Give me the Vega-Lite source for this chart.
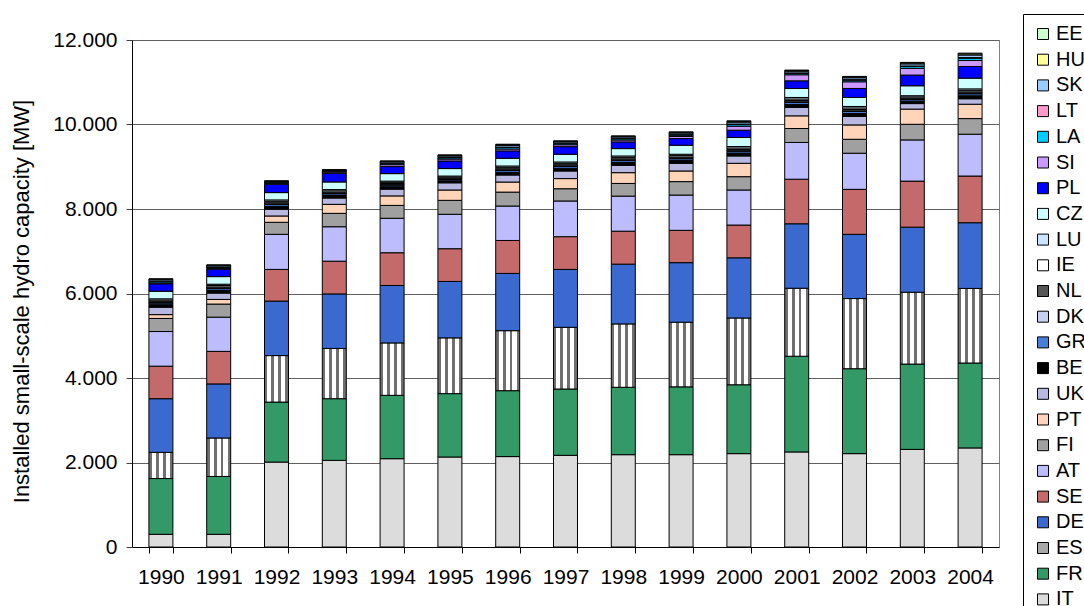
{
  "$schema": "https://vega.github.io/schema/vega-lite/v6.json",
  "autosize": {"type": "none"},
  "width": 867,
  "height": 507,
  "padding": {"left": 132, "top": 40, "right": 85, "bottom": 59},
  "background": "white",
  "config": {
    "font": "Liberation Sans",
    "view": {"stroke": "#808080", "strokeWidth": 1}
  },
  "data": {"values": [
{"year":"1990","country":"IT","mw":300},{"year":"1990","country":"FR","mw":1320},{"year":"1990","country":"ES","mw":620},{"year":"1990","country":"DE","mw":1270},{"year":"1990","country":"SE","mw":770},{"year":"1990","country":"AT","mw":820},{"year":"1990","country":"FI","mw":310},{"year":"1990","country":"PT","mw":90},{"year":"1990","country":"UK","mw":175},{"year":"1990","country":"BE","mw":60},{"year":"1990","country":"GR","mw":40},{"year":"1990","country":"DK","mw":10},{"year":"1990","country":"NL","mw":30},{"year":"1990","country":"IE","mw":30},{"year":"1990","country":"LU","mw":29},{"year":"1990","country":"CZ","mw":180},{"year":"1990","country":"PL","mw":176},{"year":"1990","country":"SI","mw":20},{"year":"1990","country":"LA","mw":29},{"year":"1990","country":"LT","mw":10},{"year":"1990","country":"SK","mw":34},{"year":"1990","country":"HU","mw":15},{"year":"1990","country":"EE","mw":10},
{"year":"1991","country":"IT","mw":300},{"year":"1991","country":"FR","mw":1370},{"year":"1991","country":"ES","mw":910},{"year":"1991","country":"DE","mw":1280},{"year":"1991","country":"SE","mw":770},{"year":"1991","country":"AT","mw":810},{"year":"1991","country":"FI","mw":310},{"year":"1991","country":"PT","mw":110},{"year":"1991","country":"UK","mw":150},{"year":"1991","country":"BE","mw":63},{"year":"1991","country":"GR","mw":42},{"year":"1991","country":"DK","mw":10},{"year":"1991","country":"NL","mw":32},{"year":"1991","country":"IE","mw":32},{"year":"1991","country":"LU","mw":31},{"year":"1991","country":"CZ","mw":180},{"year":"1991","country":"PL","mw":175},{"year":"1991","country":"SI","mw":20},{"year":"1991","country":"LA","mw":25},{"year":"1991","country":"LT","mw":8},{"year":"1991","country":"SK","mw":29},{"year":"1991","country":"HU","mw":12},{"year":"1991","country":"EE","mw":8},
{"year":"1992","country":"IT","mw":2010},{"year":"1992","country":"FR","mw":1420},{"year":"1992","country":"ES","mw":1100},{"year":"1992","country":"DE","mw":1290},{"year":"1992","country":"SE","mw":750},{"year":"1992","country":"AT","mw":830},{"year":"1992","country":"FI","mw":285},{"year":"1992","country":"PT","mw":150},{"year":"1992","country":"UK","mw":160},{"year":"1992","country":"BE","mw":66},{"year":"1992","country":"GR","mw":44},{"year":"1992","country":"DK","mw":11},{"year":"1992","country":"NL","mw":33},{"year":"1992","country":"IE","mw":33},{"year":"1992","country":"LU","mw":33},{"year":"1992","country":"CZ","mw":173},{"year":"1992","country":"PL","mw":200},{"year":"1992","country":"SI","mw":20},{"year":"1992","country":"LA","mw":17},{"year":"1992","country":"LT","mw":6},{"year":"1992","country":"SK","mw":20},{"year":"1992","country":"HU","mw":9},{"year":"1992","country":"EE","mw":6},
{"year":"1993","country":"IT","mw":2050},{"year":"1993","country":"FR","mw":1460},{"year":"1993","country":"ES","mw":1190},{"year":"1993","country":"DE","mw":1290},{"year":"1993","country":"SE","mw":775},{"year":"1993","country":"AT","mw":815},{"year":"1993","country":"FI","mw":317},{"year":"1993","country":"PT","mw":213},{"year":"1993","country":"UK","mw":150},{"year":"1993","country":"BE","mw":60},{"year":"1993","country":"GR","mw":40},{"year":"1993","country":"DK","mw":10},{"year":"1993","country":"NL","mw":30},{"year":"1993","country":"IE","mw":30},{"year":"1993","country":"LU","mw":30},{"year":"1993","country":"CZ","mw":180},{"year":"1993","country":"PL","mw":205},{"year":"1993","country":"SI","mw":30},{"year":"1993","country":"LA","mw":17},{"year":"1993","country":"LT","mw":5},{"year":"1993","country":"SK","mw":19},{"year":"1993","country":"HU","mw":8},{"year":"1993","country":"EE","mw":6},
{"year":"1994","country":"IT","mw":2090},{"year":"1994","country":"FR","mw":1500},{"year":"1994","country":"ES","mw":1240},{"year":"1994","country":"DE","mw":1360},{"year":"1994","country":"SE","mw":775},{"year":"1994","country":"AT","mw":815},{"year":"1994","country":"FI","mw":305},{"year":"1994","country":"PT","mw":225},{"year":"1994","country":"UK","mw":160},{"year":"1994","country":"BE","mw":57},{"year":"1994","country":"GR","mw":38},{"year":"1994","country":"DK","mw":10},{"year":"1994","country":"NL","mw":28},{"year":"1994","country":"IE","mw":29},{"year":"1994","country":"LU","mw":28},{"year":"1994","country":"CZ","mw":178},{"year":"1994","country":"PL","mw":166},{"year":"1994","country":"SI","mw":45},{"year":"1994","country":"LA","mw":26},{"year":"1994","country":"LT","mw":9},{"year":"1994","country":"SK","mw":31},{"year":"1994","country":"HU","mw":13},{"year":"1994","country":"EE","mw":9},
{"year":"1995","country":"IT","mw":2130},{"year":"1995","country":"FR","mw":1500},{"year":"1995","country":"ES","mw":1320},{"year":"1995","country":"DE","mw":1335},{"year":"1995","country":"SE","mw":775},{"year":"1995","country":"AT","mw":815},{"year":"1995","country":"FI","mw":330},{"year":"1995","country":"PT","mw":245},{"year":"1995","country":"UK","mw":170},{"year":"1995","country":"BE","mw":48},{"year":"1995","country":"GR","mw":32},{"year":"1995","country":"DK","mw":8},{"year":"1995","country":"NL","mw":24},{"year":"1995","country":"IE","mw":24},{"year":"1995","country":"LU","mw":24},{"year":"1995","country":"CZ","mw":177},{"year":"1995","country":"PL","mw":180},{"year":"1995","country":"SI","mw":45},{"year":"1995","country":"LA","mw":29},{"year":"1995","country":"LT","mw":10},{"year":"1995","country":"SK","mw":34},{"year":"1995","country":"HU","mw":15},{"year":"1995","country":"EE","mw":10},
{"year":"1996","country":"IT","mw":2140},{"year":"1996","country":"FR","mw":1560},{"year":"1996","country":"ES","mw":1420},{"year":"1996","country":"DE","mw":1355},{"year":"1996","country":"SE","mw":780},{"year":"1996","country":"AT","mw":815},{"year":"1996","country":"FI","mw":330},{"year":"1996","country":"PT","mw":238},{"year":"1996","country":"UK","mw":167},{"year":"1996","country":"BE","mw":64},{"year":"1996","country":"GR","mw":43},{"year":"1996","country":"DK","mw":10},{"year":"1996","country":"NL","mw":32},{"year":"1996","country":"IE","mw":32},{"year":"1996","country":"LU","mw":32},{"year":"1996","country":"CZ","mw":183},{"year":"1996","country":"PL","mw":174},{"year":"1996","country":"SI","mw":45},{"year":"1996","country":"LA","mw":34},{"year":"1996","country":"LT","mw":11},{"year":"1996","country":"SK","mw":40},{"year":"1996","country":"HU","mw":17},{"year":"1996","country":"EE","mw":11},
{"year":"1997","country":"IT","mw":2170},{"year":"1997","country":"FR","mw":1570},{"year":"1997","country":"ES","mw":1460},{"year":"1997","country":"DE","mw":1370},{"year":"1997","country":"SE","mw":775},{"year":"1997","country":"AT","mw":845},{"year":"1997","country":"FI","mw":290},{"year":"1997","country":"PT","mw":240},{"year":"1997","country":"UK","mw":180},{"year":"1997","country":"BE","mw":64},{"year":"1997","country":"GR","mw":43},{"year":"1997","country":"DK","mw":10},{"year":"1997","country":"NL","mw":32},{"year":"1997","country":"IE","mw":32},{"year":"1997","country":"LU","mw":32},{"year":"1997","country":"CZ","mw":183},{"year":"1997","country":"PL","mw":180},{"year":"1997","country":"SI","mw":45},{"year":"1997","country":"LA","mw":27},{"year":"1997","country":"LT","mw":9},{"year":"1997","country":"SK","mw":32},{"year":"1997","country":"HU","mw":14},{"year":"1997","country":"EE","mw":9},
{"year":"1998","country":"IT","mw":2185},{"year":"1998","country":"FR","mw":1595},{"year":"1998","country":"ES","mw":1500},{"year":"1998","country":"DE","mw":1415},{"year":"1998","country":"SE","mw":780},{"year":"1998","country":"AT","mw":830},{"year":"1998","country":"FI","mw":300},{"year":"1998","country":"PT","mw":255},{"year":"1998","country":"UK","mw":175},{"year":"1998","country":"BE","mw":66},{"year":"1998","country":"GR","mw":44},{"year":"1998","country":"DK","mw":11},{"year":"1998","country":"NL","mw":33},{"year":"1998","country":"IE","mw":33},{"year":"1998","country":"LU","mw":33},{"year":"1998","country":"CZ","mw":175},{"year":"1998","country":"PL","mw":158},{"year":"1998","country":"SI","mw":45},{"year":"1998","country":"LA","mw":29},{"year":"1998","country":"LT","mw":10},{"year":"1998","country":"SK","mw":34},{"year":"1998","country":"HU","mw":14},{"year":"1998","country":"EE","mw":10},
{"year":"1999","country":"IT","mw":2185},{"year":"1999","country":"FR","mw":1605},{"year":"1999","country":"ES","mw":1530},{"year":"1999","country":"DE","mw":1410},{"year":"1999","country":"SE","mw":765},{"year":"1999","country":"AT","mw":835},{"year":"1999","country":"FI","mw":318},{"year":"1999","country":"PT","mw":252},{"year":"1999","country":"UK","mw":182},{"year":"1999","country":"BE","mw":64},{"year":"1999","country":"GR","mw":43},{"year":"1999","country":"DK","mw":11},{"year":"1999","country":"NL","mw":32},{"year":"1999","country":"IE","mw":32},{"year":"1999","country":"LU","mw":32},{"year":"1999","country":"CZ","mw":213},{"year":"1999","country":"PL","mw":158},{"year":"1999","country":"SI","mw":50},{"year":"1999","country":"LA","mw":32},{"year":"1999","country":"LT","mw":11},{"year":"1999","country":"SK","mw":38},{"year":"1999","country":"HU","mw":16},{"year":"1999","country":"EE","mw":11},
{"year":"2000","country":"IT","mw":2210},{"year":"2000","country":"FR","mw":1630},{"year":"2000","country":"ES","mw":1580},{"year":"2000","country":"DE","mw":1425},{"year":"2000","country":"SE","mw":775},{"year":"2000","country":"AT","mw":830},{"year":"2000","country":"FI","mw":315},{"year":"2000","country":"PT","mw":317},{"year":"2000","country":"UK","mw":174},{"year":"2000","country":"BE","mw":67},{"year":"2000","country":"GR","mw":44},{"year":"2000","country":"DK","mw":11},{"year":"2000","country":"NL","mw":33},{"year":"2000","country":"IE","mw":33},{"year":"2000","country":"LU","mw":34},{"year":"2000","country":"CZ","mw":214},{"year":"2000","country":"PL","mw":173},{"year":"2000","country":"SI","mw":95},{"year":"2000","country":"LA","mw":38},{"year":"2000","country":"LT","mw":13},{"year":"2000","country":"SK","mw":44},{"year":"2000","country":"HU","mw":19},{"year":"2000","country":"EE","mw":12},
{"year":"2001","country":"IT","mw":2250},{"year":"2001","country":"FR","mw":2265},{"year":"2001","country":"ES","mw":1610},{"year":"2001","country":"DE","mw":1525},{"year":"2001","country":"SE","mw":1055},{"year":"2001","country":"AT","mw":870},{"year":"2001","country":"FI","mw":330},{"year":"2001","country":"PT","mw":300},{"year":"2001","country":"UK","mw":200},{"year":"2001","country":"BE","mw":70},{"year":"2001","country":"GR","mw":47},{"year":"2001","country":"DK","mw":12},{"year":"2001","country":"NL","mw":35},{"year":"2001","country":"IE","mw":35},{"year":"2001","country":"LU","mw":36},{"year":"2001","country":"CZ","mw":213},{"year":"2001","country":"PL","mw":181},{"year":"2001","country":"SI","mw":143},{"year":"2001","country":"LA","mw":33},{"year":"2001","country":"LT","mw":11},{"year":"2001","country":"SK","mw":39},{"year":"2001","country":"HU","mw":17},{"year":"2001","country":"EE","mw":11},
{"year":"2002","country":"IT","mw":2210},{"year":"2002","country":"FR","mw":2010},{"year":"2002","country":"ES","mw":1660},{"year":"2002","country":"DE","mw":1520},{"year":"2002","country":"SE","mw":1065},{"year":"2002","country":"AT","mw":855},{"year":"2002","country":"FI","mw":330},{"year":"2002","country":"PT","mw":340},{"year":"2002","country":"UK","mw":200},{"year":"2002","country":"BE","mw":71},{"year":"2002","country":"GR","mw":47},{"year":"2002","country":"DK","mw":12},{"year":"2002","country":"NL","mw":36},{"year":"2002","country":"IE","mw":36},{"year":"2002","country":"LU","mw":35},{"year":"2002","country":"CZ","mw":213},{"year":"2002","country":"PL","mw":213},{"year":"2002","country":"SI","mw":158},{"year":"2002","country":"LA","mw":38},{"year":"2002","country":"LT","mw":13},{"year":"2002","country":"SK","mw":44},{"year":"2002","country":"HU","mw":19},{"year":"2002","country":"EE","mw":13},
{"year":"2003","country":"IT","mw":2310},{"year":"2003","country":"FR","mw":2020},{"year":"2003","country":"ES","mw":1700},{"year":"2003","country":"DE","mw":1540},{"year":"2003","country":"SE","mw":1090},{"year":"2003","country":"AT","mw":975},{"year":"2003","country":"FI","mw":370},{"year":"2003","country":"PT","mw":360},{"year":"2003","country":"UK","mw":130},{"year":"2003","country":"BE","mw":56},{"year":"2003","country":"GR","mw":37},{"year":"2003","country":"DK","mw":9},{"year":"2003","country":"NL","mw":28},{"year":"2003","country":"IE","mw":28},{"year":"2003","country":"LU","mw":28},{"year":"2003","country":"CZ","mw":236},{"year":"2003","country":"PL","mw":253},{"year":"2003","country":"SI","mw":158},{"year":"2003","country":"LA","mw":43},{"year":"2003","country":"LT","mw":14},{"year":"2003","country":"SK","mw":50},{"year":"2003","country":"HU","mw":21},{"year":"2003","country":"EE","mw":14},
{"year":"2004","country":"IT","mw":2345},{"year":"2004","country":"FR","mw":2010},{"year":"2004","country":"ES","mw":1765},{"year":"2004","country":"DE","mw":1555},{"year":"2004","country":"SE","mw":1105},{"year":"2004","country":"AT","mw":990},{"year":"2004","country":"FI","mw":370},{"year":"2004","country":"PT","mw":340},{"year":"2004","country":"UK","mw":130},{"year":"2004","country":"BE","mw":70},{"year":"2004","country":"GR","mw":47},{"year":"2004","country":"DK","mw":12},{"year":"2004","country":"NL","mw":35},{"year":"2004","country":"IE","mw":35},{"year":"2004","country":"LU","mw":34},{"year":"2004","country":"CZ","mw":254},{"year":"2004","country":"PL","mw":276},{"year":"2004","country":"SI","mw":142},{"year":"2004","country":"LA","mw":52},{"year":"2004","country":"LT","mw":17},{"year":"2004","country":"SK","mw":61},{"year":"2004","country":"HU","mw":26},{"year":"2004","country":"EE","mw":18}
  ]},
  "transform": [
    {"calculate": "indexof(['IT','FR','ES','DE','SE','AT','FI','PT','UK','BE','GR','DK','NL','IE','LU','CZ','PL','SI','LA','LT','SK','HU','EE'], datum.country)", "as": "stackOrder"}
  ],
  "mark": {"type": "bar", "stroke": "black", "strokeWidth": 1},
  "encoding": {
    "x": {
      "field": "year", "type": "nominal",
      "scale": {"paddingInner": 0.585, "paddingOuter": 0.2925},
      "axis": {"title": null, "labelAngle": 0, "labelFontSize": 21, "labelColor": "black", "labelPadding": 13, "tickBand": "extent", "tickSize": 6, "tickColor": "black", "domainColor": "black", "grid": false}
    },
    "y": {
      "field": "mw", "type": "quantitative", "stack": "zero",
      "scale": {"domain": [0, 12000], "nice": false},
      "axis": {
        "title": "Installed small-scale hydro capacity [MW]",
        "titleFontSize": 22, "titleFontWeight": "normal", "titleColor": "black",
        "titleX": -104, "titleY": 261, "titleAngle": -90, "titleBaseline": "alphabetic", "titleAlign": "center",
        "values": [0, 2000, 4000, 6000, 8000, 10000, 12000],
        "labelExpr": "replace(format(datum.value, ','), ',', '.')",
        "labelFontSize": 21, "labelColor": "black", "labelPadding": 9,
        "tickSize": 6, "tickColor": "#404040", "domainColor": "black",
        "grid": true, "gridColor": "#606060", "gridWidth": 1
      }
    },
    "order": {"field": "stackOrder", "type": "quantitative", "sort": "ascending"},
    "color": {
      "field": "country", "type": "nominal",
      "condition": {"test": "datum.country === 'ES'", "value": {"gradient": "linear", "x1": 0, "y1": 0, "x2": 1, "y2": 0, "stops": [
        {"offset": 0, "color": "#707070"}, {"offset": 0.12, "color": "#707070"}, {"offset": 0.12, "color": "#ffffff"}, {"offset": 0.29, "color": "#ffffff"},
        {"offset": 0.29, "color": "#707070"}, {"offset": 0.41, "color": "#707070"}, {"offset": 0.41, "color": "#ffffff"}, {"offset": 0.58, "color": "#ffffff"},
        {"offset": 0.58, "color": "#707070"}, {"offset": 0.70, "color": "#707070"}, {"offset": 0.70, "color": "#ffffff"}, {"offset": 0.87, "color": "#ffffff"},
        {"offset": 0.87, "color": "#707070"}, {"offset": 1, "color": "#707070"}
      ]}},
      "scale": {
        "domain": ["EE","HU","SK","LT","LA","SI","PL","CZ","LU","IE","NL","DK","GR","BE","UK","PT","FI","AT","SE","DE","ES","FR","IT"],
        "range": ["#ccffcc","#ffff99","#99ccff","#ff99cc","#00ccff","#cc99ff","#0000ff","#ccffff","#cce4ff","#ffffff","#555555","#c8d0f0","#4a7fd9","#000000","#b8b8e0","#ffd4b8","#a0a0a0","#bcbcff","#c46a6a","#3a6ad0","#a8a8a8","#339966","#dcdcdc"]
      },
      "legend": {
        "title": null, "orient": "none", "legendX": 891, "legendY": -26,
        "direction": "vertical",
        "labelFontSize": 20, "labelColor": "black", "labelOffset": 3,
        "symbolType": "square", "symbolSize": 121, "symbolStrokeColor": "black", "symbolStrokeWidth": 1, "symbolOpacity": 1,
        "rowPadding": 5.7, "padding": 10, "strokeColor": "black", "fillColor": "white"
      }
    }
  }
}
